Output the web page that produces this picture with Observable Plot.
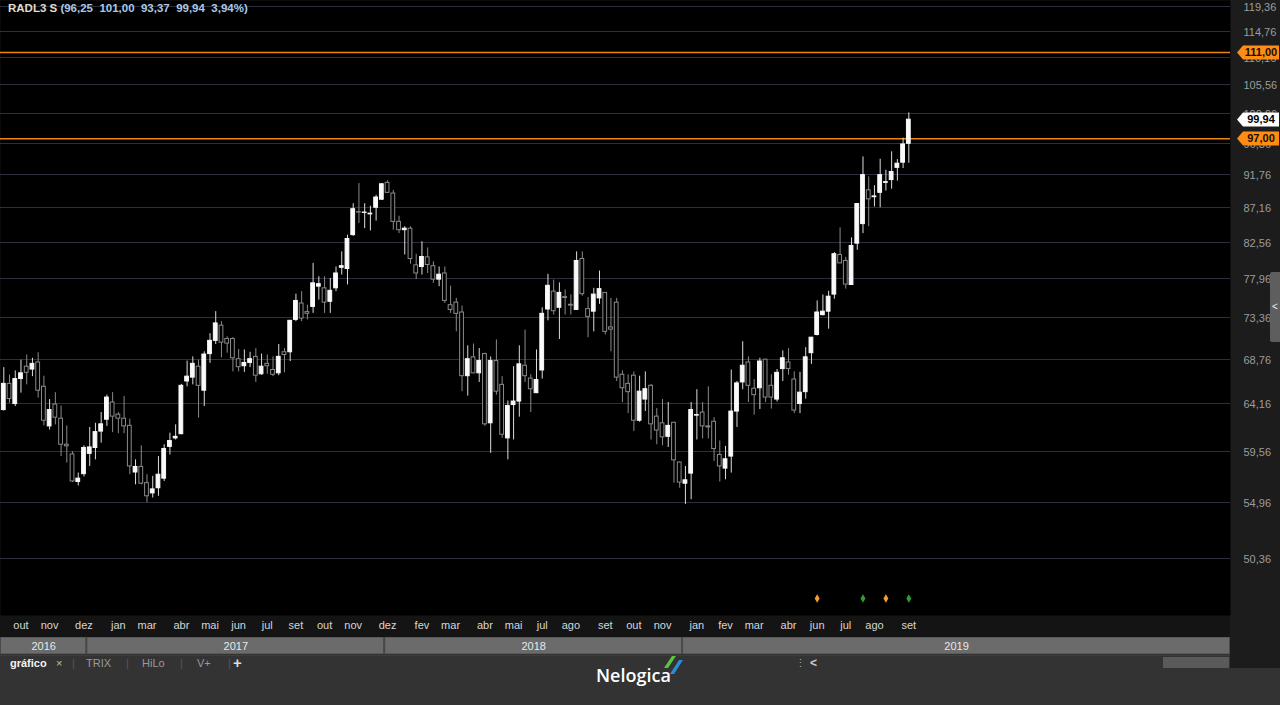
<!DOCTYPE html>
<html><head><meta charset="utf-8">
<script src="https://cdn.jsdelivr.net/npm/d3@7"></script>
<script src="https://cdn.jsdelivr.net/npm/@observablehq/plot@0.6"></script>
<style>
html,body{margin:0;padding:0;background:#333;}
#wrap{position:relative;width:1280px;height:705px;overflow:hidden;background:#333;font-family:"Liberation Sans",Arial,sans-serif;}
.abs{position:absolute;white-space:pre;}
</style></head><body>
<div id="wrap">
  <div class="abs" style="left:0;top:0;width:1230px;height:637px;background:#141414"></div>
  <div class="abs" style="left:1230px;top:0;width:50px;height:668px;background:#1c1c1c"></div>
  <div id="main" class="abs" style="left:0;top:0"></div>
  <div id="years" class="abs" style="left:0;top:637px"></div>
  <div id="title" class="abs" style="left:8px;top:1px;font-size:11.5px;font-weight:bold;line-height:14px"></div>
  <div class="abs" style="left:1270px;top:272px;width:10px;height:70px;background:#5e5e5e;border-radius:2px 0 0 2px;color:#eee;font-size:10px;line-height:70px;text-align:center">&lt;</div>
  <div class="abs" style="left:0;top:655px;width:1230px;height:1px;background:#3d3d3d"></div>
  <div class="abs" style="left:10px;top:657px;font-size:11px;font-weight:bold;color:#f2f2f2">gráfico</div>
  <div class="abs" style="left:56px;top:657px;font-size:11px;color:#bbb">×</div>
  <div class="abs" style="left:72px;top:657px;font-size:11px;color:#5a5a5a">|</div>
  <div class="abs" style="left:86px;top:657px;font-size:11px;color:#9a9a9a">TRIX</div>
  <div class="abs" style="left:126px;top:657px;font-size:11px;color:#5a5a5a">|</div>
  <div class="abs" style="left:142px;top:657px;font-size:11px;color:#9a9a9a">HiLo</div>
  <div class="abs" style="left:180px;top:657px;font-size:11px;color:#5a5a5a">|</div>
  <div class="abs" style="left:197px;top:657px;font-size:11px;color:#9a9a9a">V+</div>
  <div class="abs" style="left:228px;top:657px;font-size:11px;color:#5a5a5a">|</div>
  <div class="abs" style="left:233px;top:654px;font-size:15px;font-weight:bold;color:#ddd">+</div>
  <div class="abs" style="left:795px;top:657px;font-size:11px;color:#aaa">⋮</div>
  <div class="abs" style="left:810px;top:656px;font-size:12px;font-weight:bold;color:#ccc">&lt;</div>
  <div class="abs" style="left:1163px;top:657px;width:66px;height:11px;background:#5a5a5a"></div>
  <div class="abs" style="left:596px;top:663px;font-family:'Open Sans',sans-serif;font-size:18px;font-weight:600;color:#fff">Nelogica</div>
  <svg class="abs" style="left:662px;top:655px" width="24" height="22">
    <polygon points="10,1 14,1 6,13 2,13" fill="#5cc43a"/>
    <polygon points="17,5 21,5 12,19 8,19" fill="#2a8fd6"/>
  </svg>
</div>
<script>
// ---- data (weekly candles, RADL3) ----
const ticker = "RADL3 S";
const openV = [
63.5,66.15,64.1,66.65,67.95,67.65,68.4,65.85,61.9,64.05,
62.65,60.15,59.25,56.75,57.45,59.3,59.85,61.4,62.55,64.25,
63.05,62.65,61.95,57.6,58.1,56.65,55.75,56.2,57.05,59.95,
60.75,61.15,66.4,66.8,67.95,65.45,69.3,70.75,72.45,70.95,
70.95,68.75,68.0,68.35,69.0,67.15,68.25,67.6,67.25,69.5,
69.5,73.1,75.0,74.0,74.6,77.0,76.8,75.2,76.8,79.3,
79.15,83.45,86.5,86.4,86.2,87.1,88.2,90.55,89.05,85.2,
84.1,84.3,79.6,79.4,80.6,79.5,77.85,78.6,74.8,75.1,
73.95,66.95,68.95,67.25,69.3,62.2,68.55,66.05,60.75,64.0,
64.35,68.05,66.7,65.2,67.55,74.3,76.4,74.5,75.75,74.85,
74.25,80.4,74.35,74.05,75.6,76.25,72.25,75.1,67.1,66.15,
67.0,62.45,64.55,65.95,62.85,62.2,60.9,62.25,58.5,56.6,
57.5,62.95,63.25,61.9,62.35,59.2,57.95,59.05,63.35,66.3,
68.4,65.65,65.7,68.7,65.95,64.55,67.7,68.4,66.6,64.1,
65.3,69.4,71.4,73.65,74.05,76.05,80.9,80.15,77.2,82.35,
84.9,89.5,88.55,89.15,90.55,90.95,92.7,93.45,96.25];
const highV = [
67.85,67.07,67.5,68.65,69.2,68.85,69.45,66.95,64.55,65.25,
63.9,61.95,59.5,57.55,60.05,61.8,62.2,63.25,65.0,65.25,
63.25,64.85,62.6,58.75,60.05,57.4,57.25,59.05,60.15,61.25,
62.05,66.1,68.55,69.0,68.65,69.55,71.55,74.05,72.9,71.2,
71.1,69.8,69.75,69.5,69.9,69.3,69.2,69.0,70.35,69.9,
73.0,76.1,76.4,74.8,79.85,78.2,78.2,78.0,79.4,81.3,
83.45,87.65,90.45,87.65,87.3,88.8,90.45,90.85,89.5,85.95,
84.55,84.55,81.0,82.6,81.8,80.05,79.4,79.4,77.05,75.6,
74.7,70.2,70.4,69.9,69.4,69.0,70.85,66.9,64.4,67.95,
70.2,71.95,67.1,69.75,74.5,78.5,77.8,77.45,76.6,76.0,
81.3,81.3,75.7,76.8,78.9,76.3,75.6,75.6,67.5,67.1,
67.4,66.95,67.4,66.1,63.65,64.55,64.25,62.3,58.55,58.15,
64.25,65.55,64.25,65.85,62.75,60.5,60.0,67.6,66.4,70.65,
69.0,66.6,68.85,68.75,67.1,67.65,69.65,69.9,67.4,67.35,
70.0,71.1,75.3,76.0,76.45,81.2,84.4,80.6,83.1,87.65,
94.3,91.4,90.15,93.95,92.35,95.05,93.9,97.1,101.0];
const lowV = [
63.4,64.17,63.85,65.2,66.05,66.9,64.7,61.95,61.55,62.05,
59.05,58.45,56.7,56.4,57.2,58.15,58.75,60.3,61.9,61.3,
61.2,61.2,57.4,56.5,56.5,54.95,55.35,55.5,56.8,59.2,
60.6,61.1,65.85,66.05,62.7,63.85,68.3,70.35,68.9,69.4,
67.4,67.4,67.35,67.85,66.3,67.05,67.15,66.9,67.0,67.3,
68.5,72.9,72.9,73.1,73.85,75.4,73.85,73.85,76.4,78.4,
77.2,83.3,85.0,84.3,84.0,85.3,88.1,89.05,84.1,83.65,
80.9,79.75,77.85,78.4,78.6,77.4,77.0,75.0,73.85,71.75,
65.35,64.9,67.2,66.3,61.9,59.35,65.0,60.75,58.75,60.6,
62.8,66.3,63.25,65.15,66.65,73.0,73.65,70.9,73.65,73.65,
74.2,75.85,71.1,71.75,74.9,71.4,69.55,66.4,64.25,63.15,
61.4,62.3,63.35,60.6,60.15,60.05,59.9,56.65,56.2,54.8,
55.2,60.6,60.7,60.7,58.6,56.75,56.95,57.55,61.8,65.55,
64.25,63.0,63.55,64.25,63.6,64.3,66.4,67.05,63.15,63.15,
64.6,68.2,71.3,73.55,72.05,75.5,79.8,76.7,77.15,81.5,
83.65,84.55,87.2,87.1,89.4,89.65,90.8,92.6,93.37];
const closeV = [
66.15,64.6,66.65,67.25,67.3,68.25,65.45,62.45,63.5,62.75,
60.15,60.0,56.8,57.05,59.85,59.9,61.35,62.1,64.75,62.85,
62.65,61.9,58.15,58.1,56.6,55.5,56.1,57.4,59.75,60.5,
60.9,65.95,66.9,68.25,65.95,69.25,70.75,72.7,70.55,70.45,
68.85,67.9,68.35,68.75,67.0,67.95,68.0,67.1,69.0,69.2,
73.0,75.3,73.25,73.8,77.4,77.3,75.1,76.5,78.6,79.5,
82.95,86.9,86.45,86.45,86.3,88.5,90.35,89.15,85.2,84.1,
84.3,80.4,78.6,80.65,79.65,77.85,78.45,75.3,74.25,73.8,
66.95,68.75,67.25,68.55,62.1,68.55,65.35,61.1,63.9,64.35,
68.2,66.95,65.6,66.55,73.8,77.1,74.1,76.25,75.65,74.75,
80.15,76.1,73.45,76.05,76.7,71.75,72.0,66.8,65.7,65.3,
62.45,65.35,65.6,62.1,61.5,60.85,61.95,58.7,56.7,56.9,
63.5,63.0,61.9,61.8,59.75,58.15,58.8,63.35,66.2,68.05,
65.95,65.0,68.5,64.75,64.75,67.3,68.85,67.7,63.45,65.25,
68.95,71.1,73.95,74.05,75.8,81.0,79.85,77.25,82.05,87.6,
91.65,88.25,88.65,91.65,90.65,92.1,93.3,96.15,99.94];

// price axis ticks (right) and horizontal alert levels
const yTicks = [119.36,114.76,110.16,105.56,100.96,96.36,91.76,87.16,82.56,77.96,73.36,68.76,64.16,59.56,54.96,50.36];
const levels = [111.00, 97.00];

// month labels (candle index where drawn) and year blocks (first candle of each year)
const monthTickIdx = [3,8,14,20,25,31,36,41,46,51,56,61,67,73,78,84,89,94,99,105,110,115,121,126,131,137,142,147,152,158];
const monthLabels = ["out","nov","dez","jan","mar","abr","mai","jun","jul","set","out","nov","dez","fev","mar","abr","mai","jul","ago","set","out","nov","jan","fev","mar","abr","jun","jul","ago","set"];
const yearLabels = ["2016","2017","2018","2019"];
const yearFirstIdx = [0,15,67,119];

// signal markers
const signalOrange = [142,154];
const signalGreen = [150,158];

// ---- build ----
const rows = openV.map((o,i)=>({i, open:o, high:highV[i], low:lowV[i], close:closeV[i]}));
const up = rows.filter(d=>d.close>=d.open);
const down = rows.filter(d=>d.close<d.open);
const fmt = v => v.toFixed(2).replace(".", ",");

const xDomain = [-0.576, 214.16];
const yDomain = [46.07, 120.39];
const hw = 0.33;

const last = rows[rows.length-1];
const prev = rows[rows.length-2];
const pct = (last.close/prev.close - 1)*100;
document.getElementById("title").innerHTML =
  `<span style="color:#e2dccf">${ticker}</span><span style="color:#a9c8e8"> (${fmt(last.open)}  ${fmt(last.high)}  ${fmt(last.low)}  ${fmt(last.close)}  ${fmt(pct)}%)</span>`;

const chart = Plot.plot({
  width: 1280, height: 637,
  marginLeft: 0, marginRight: 50, marginTop: 0, marginBottom: 22,
  x: {domain: xDomain, axis: null},
  y: {type: "log", domain: yDomain, axis: null},
  style: {background: "transparent", fontFamily: "Liberation Sans, Arial, sans-serif", fontSize: "11px", overflow: "visible"},
  marks: [
    Plot.frame({fill: "#000", stroke: null}),
    Plot.ruleY(yTicks, {stroke: "#2c303d", strokeWidth: 1, shapeRendering: "crispEdges"}),
    Plot.ruleY(levels, {stroke: "#ee8410", strokeWidth: 1.5}),
    Plot.ruleX(down, {x: "i", y1: "low", y2: "high", stroke: "#8a8a8a"}),
    Plot.ruleX(up, {x: "i", y1: "low", y2: "high", stroke: "#dcdcdc"}),
    Plot.rect(down, {x1: d=>d.i-hw, x2: d=>d.i+hw, y1: "open", y2: "close", fill: "#000", stroke: "#8a8a8a"}),
    Plot.rect(up, {x1: d=>d.i-hw, x2: d=>d.i+hw, y1: "open", y2: "close", fill: "#fafafa", stroke: "#fafafa"}),
    Plot.dot(signalOrange, {x: d=>d, frameAnchor: "bottom", dy: -17, symbol: "diamond", r: 2.6, fill: "#f0a030"}),
    Plot.dot(signalGreen, {x: d=>d, frameAnchor: "bottom", dy: -17, symbol: "diamond", r: 2.6, fill: "#2f9e32"}),
    Plot.text(yTicks, {y: d=>d, text: d=>fmt(d), frameAnchor: "right", dx: 13, dy: 1, textAnchor: "start", fill: "#9c9c9c"}),
    Plot.text(monthTickIdx, {x: d=>d, text: (d,k)=>monthLabels[k], frameAnchor: "bottom", dy: 13, fill: "#d6d6d6"})
  ]
});
document.getElementById("main").appendChild(chart);

// price tags on the right axis, positioned with the plot's y scale
const ys = chart.scale("y");
const g = d3.select(chart).append("g");
function tag(v, fill, color) {
  const cy = Math.round(ys.apply(v)) + 0.5;
  const pts = [[1237,cy],[1243,cy-7],[1279,cy-7],[1279,cy+7],[1243,cy+7]];
  g.append("polygon").attr("points", pts.map(p=>p.join(",")).join(" ")).attr("fill", fill);
  g.append("text").attr("x", 1261).attr("y", cy).attr("dy", "0.36em")
    .attr("text-anchor", "middle").attr("font-weight", "bold").attr("font-size", 11)
    .attr("fill", color).text(fmt(v));
}
levels.forEach(v => tag(v, "#ff8c14", "#1a0d00"));
tag(last.close, "#ffffff", "#000");

// year bar
const yearRows = yearLabels.map((label,k)=>({
  label,
  x1: k===0 ? xDomain[0] : yearFirstIdx[k]-0.5,
  x2: k===yearLabels.length-1 ? xDomain[1] : yearFirstIdx[k+1]-0.5
}));
const years = Plot.plot({
  width: 1280, height: 17,
  marginLeft: 0, marginRight: 50, marginTop: 0, marginBottom: 0,
  x: {domain: xDomain, axis: null},
  style: {background: "transparent", fontFamily: "Liberation Sans, Arial, sans-serif", fontSize: "11px"},
  marks: [
    Plot.rect(yearRows, {x1: "x1", x2: "x2", fill: "#6b6b6b", stroke: "#4a4a4a", insetLeft: 0.5, insetRight: 0.5}),
    Plot.text(yearRows, {x: d=>(d.x1+d.x2)/2, text: "label", fill: "#e8e8e8"})
  ]
});
document.getElementById("years").appendChild(years);
</script>
</body></html>
